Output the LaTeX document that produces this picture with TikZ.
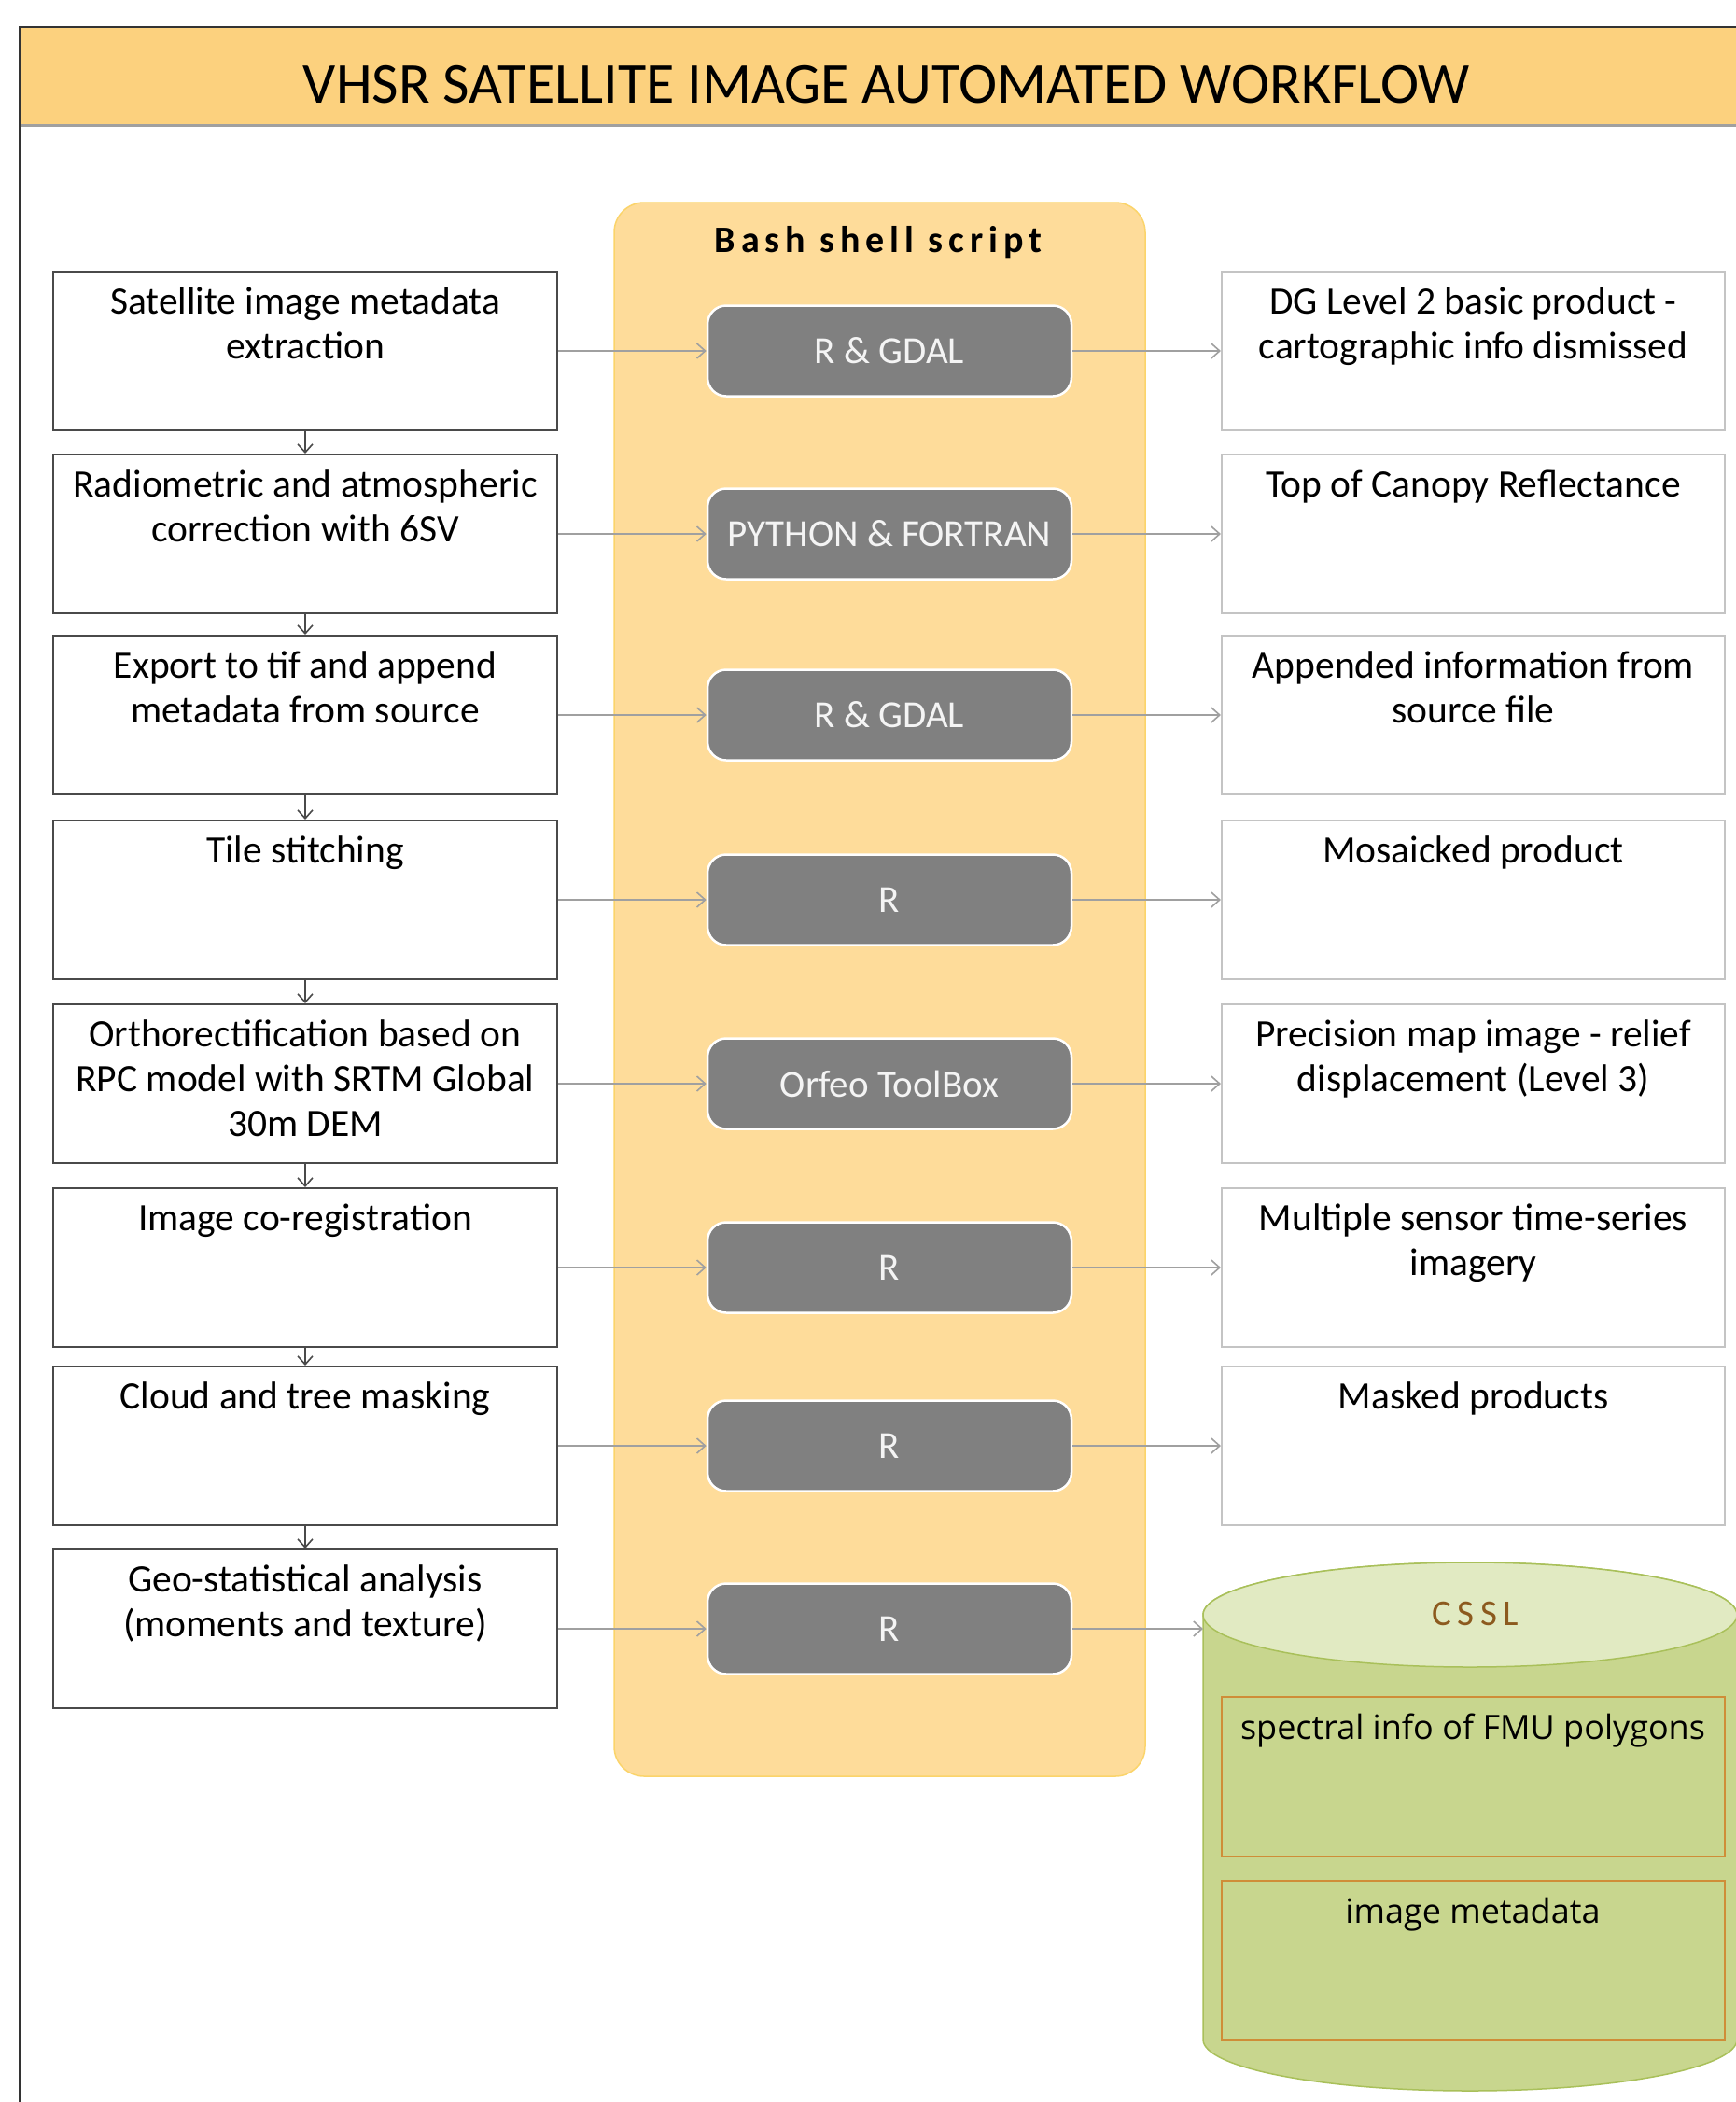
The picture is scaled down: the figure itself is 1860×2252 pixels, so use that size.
\documentclass[tikz,border=0pt]{standalone}
\usepackage{fontspec}
\setmainfont{Carlito}
\newfontfamily\osans{Open Sans}
\newfontfamily\bashfont[LetterSpace=15]{Carlito}
\newfontfamily\csslfont[LetterSpace=17]{Carlito}
\usetikzlibrary{arrows.meta}
\definecolor{titlefill}{HTML}{FCD17E}
\definecolor{bashfill}{HTML}{FEDC9A}
\definecolor{bashdraw}{HTML}{FBD46A}
\definecolor{toolfill}{HTML}{808080}
\definecolor{tooltext}{HTML}{F4F4F4}
\definecolor{ldraw}{HTML}{4A4A4A}
\definecolor{rdraw}{HTML}{C4C4C4}
\definecolor{arrowcol}{HTML}{A0A0A0}
\definecolor{cyltop}{HTML}{E1EAC2}
\definecolor{cylbody}{HTML}{C8D68E}
\definecolor{cyldraw}{HTML}{A9C05A}
\definecolor{cylbox}{HTML}{CF8D38}
\definecolor{cssltext}{HTML}{8C5A1E}
\newcommand\bt[1]{\parbox[c][170pt][t]{536pt}{\centering\fontsize{41.5}{48}\selectfont\vspace*{11.4pt}\strut #1\par}}
\newcommand\ct[1]{\parbox[c][170pt][t]{536pt}{\centering\osans\fontsize{36}{48}\selectfont\vspace*{11.4pt}\strut #1\par}}
\tikzset{
  lbox/.style={draw=ldraw, line width=2pt, fill=white, minimum width=540pt, minimum height=170pt, inner sep=0pt},
  rbox/.style={draw=rdraw, line width=2pt, fill=white, minimum width=539pt, minimum height=170pt, inner sep=0pt},
  cbox/.style={draw=cylbox, line width=2pt, minimum width=539pt, minimum height=171pt, inner sep=0pt},
  tool/.style={draw=white, line width=2.5pt, fill=toolfill, rounded corners=20pt, minimum width=390pt, minimum height=97pt, inner sep=0pt, text=tooltext, font=\fontsize{41}{48}\selectfont},
  harrow/.style={draw=arrowcol, line width=1.6pt, -{Straight Barb[length=9pt,width=16pt,line width=1.6pt]}},
  varrow/.style={draw=ldraw, line width=1.6pt, -{Straight Barb[length=9pt,width=16pt,line width=1.6pt]}},
}
\begin{document}
\begin{tikzpicture}[x=1pt,y=-1pt]
\useasboundingbox (0,0) rectangle (1860,2252);
\fill[white] (0,0) rectangle (1860,2252);
% title bar
\fill[titlefill] (21,29) rectangle (1860,133);
\draw[arrowcol, line width=3pt] (21,134) -- (1860,134);
\draw[black!80, line width=2pt] (21,2252) -- (21,29) -- (1860,29);
\node[anchor=base, inner sep=0pt, font=\fontsize{62}{70}\selectfont] (title) at (950,110) {VHSR SATELLITE IMAGE AUTOMATED WORKFLOW};
% container
\node[draw=bashdraw, line width=1.5pt, fill=bashfill, rounded corners=32pt, minimum width=569pt, minimum height=1686pt, inner sep=0pt] (bash) at (942.5,1060) {};
\node[anchor=base, inner sep=0pt, font=\bashfont\bfseries\fontsize{40}{46}\selectfont] (bashlbl) at (941,270) {Bash shell script};
% left boxes
\node[lbox] (l1) at (327,376) {\bt{Satellite image metadata\\extraction}};
\node[lbox] (l2) at (327,572) {\bt{Radiometric and atmospheric\\correction with 6SV}};
\node[lbox] (l3) at (327,766) {\bt{Export to tif and append\\metadata from source}};
\node[lbox] (l4) at (327,964) {\bt{Tile stitching}};
\node[lbox] (l5) at (327,1161) {\bt{Orthorectification based on\\RPC model with SRTM Global\\30m DEM}};
\node[lbox] (l6) at (327,1358) {\bt{Image co-registration}};
\node[lbox] (l7) at (327,1549) {\bt{Cloud and tree masking}};
\node[lbox] (l8) at (327,1745) {\bt{Geo-statistical analysis\\(moments and texture)}};
% tool boxes
\node[tool] (t1) at (953,376) {R \& GDAL};
\node[tool] (t2) at (953,572) {PYTHON \& FORTRAN};
\node[tool] (t3) at (953,766) {R \& GDAL};
\node[tool] (t4) at (953,964) {R};
\node[tool] (t5) at (953,1161) {Orfeo ToolBox};
\node[tool] (t6) at (953,1358) {R};
\node[tool] (t7) at (953,1549) {R};
\node[tool] (t8) at (953,1745) {R};
% right boxes
\node[rbox] (r1) at (1578.5,376) {\bt{DG Level 2 basic product -\\cartographic info dismissed}};
\node[rbox] (r2) at (1578.5,572) {\bt{Top of Canopy Reflectance}};
\node[rbox] (r3) at (1578.5,766) {\bt{Appended information from\\source file}};
\node[rbox] (r4) at (1578.5,964) {\bt{Mosaicked product}};
\node[rbox] (r5) at (1578.5,1161) {\bt{Precision map image - relief\\displacement (Level 3)}};
\node[rbox] (r6) at (1578.5,1358) {\bt{Multiple sensor time-series\\imagery}};
\node[rbox] (r7) at (1578.5,1549) {\bt{Masked products}};
% cylinder
\path[fill=cylbody, draw=cyldraw, line width=1.5pt] (1289,1730) -- (1289,2185) arc[start angle=180, end angle=360, x radius=286, y radius=-55] -- (1861,1730) arc[start angle=0, end angle=180, x radius=286, y radius=-56] -- cycle;
\path[fill=cyltop, draw=cyldraw, line width=1.5pt] (1575,1730) ellipse[x radius=286, y radius=56];
\coordinate (cyl) at (1289,1745);
\node[anchor=base, inner sep=0pt, text=cssltext, font=\csslfont\fontsize{39}{44}\selectfont] (cssl) at (1581,1741) {CSSL};
\node[cbox] (c1) at (1578,1903) {\ct{spectral info of FMU polygons}};
\node[cbox] (c2) at (1578,2100) {\ct{image metadata}};
% vertical arrows
\foreach \a/\b in {l1/l2,l2/l3,l3/l4,l4/l5,l5/l6,l6/l7,l7/l8}
  \draw[varrow] (\a.south) -- (\b.north);
% horizontal arrows
\foreach \i in {1,...,8}
  \draw[harrow] (l\i.east) -- (t\i.west);
\foreach \i in {1,...,7}
  \draw[harrow] (t\i.east) -- (r\i.west);
\draw[harrow] (t8.east) -- (cyl);
\end{tikzpicture}
\end{document}
